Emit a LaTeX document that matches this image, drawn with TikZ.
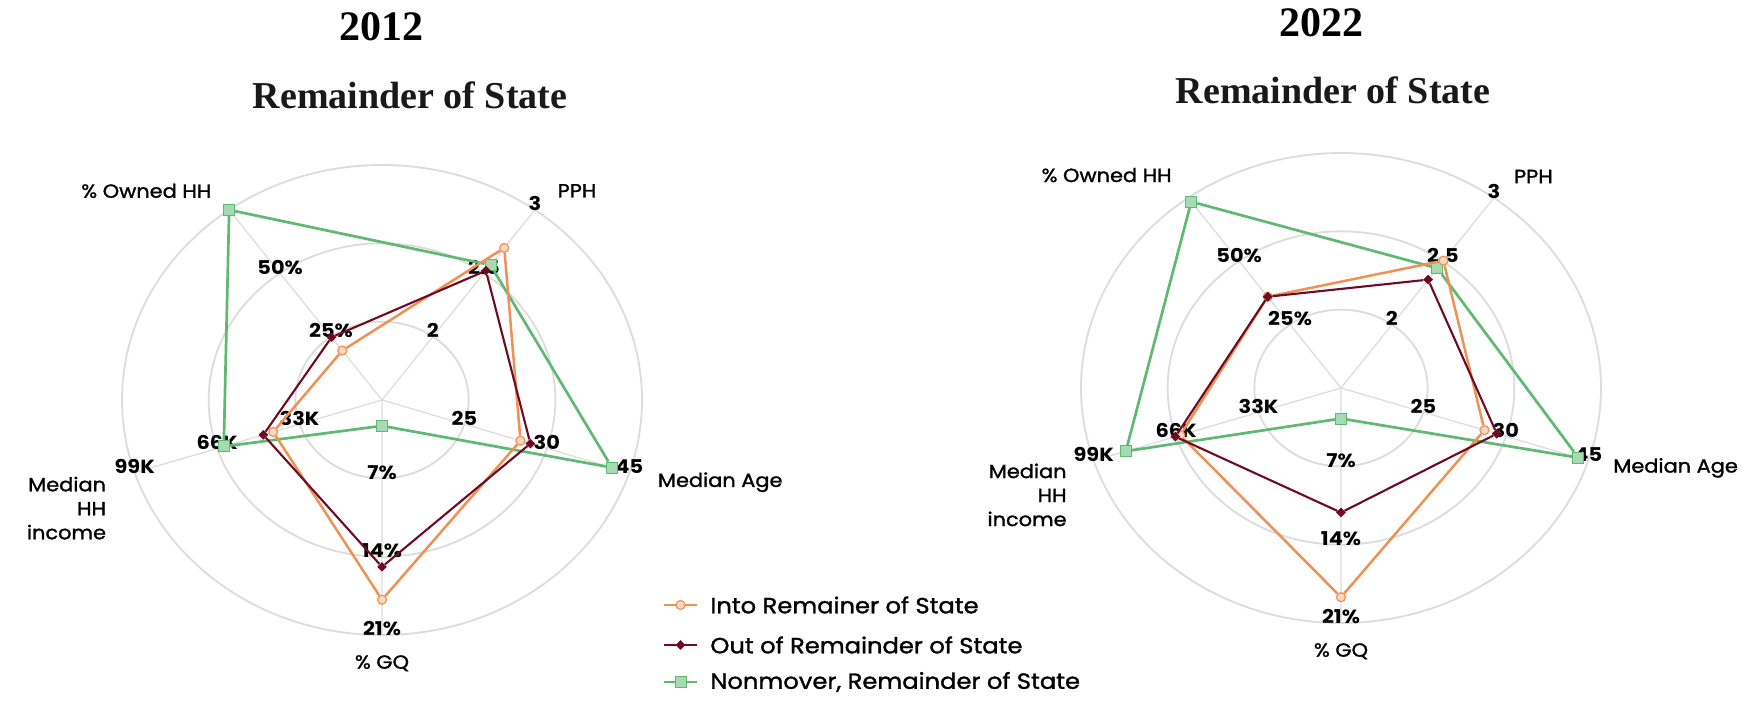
\documentclass[tikz,border=0pt]{standalone}
\usepackage{fontspec}
\setmainfont{Liberation Serif}
\newfontfamily\chartfont[FakeStretch=1.1]{Poppins}
\newfontfamily\namefont[FakeStretch=1.1,FakeBold=1.4]{Poppins}
\usetikzlibrary{shapes.geometric,positioning}

\definecolor{intoorange}{RGB}{238,145,85}
\definecolor{outred}{RGB}{110,10,35}
\definecolor{staygreen}{RGB}{95,185,115}
\definecolor{gridgray}{RGB}{220,220,220}

\begin{document}
\begin{tikzpicture}[x=0.5pt,y=-0.5pt,
  ring/.style={draw=gridgray,line width=0.9pt},
  spoke/.style={draw=gridgray,line width=0.6pt},
  into node/.style={circle,draw=intoorange,fill=intoorange!35,line width=0.6pt,inner sep=0pt,minimum size=4.5pt},
  out node/.style={diamond,fill=outred,inner sep=0pt,minimum size=5pt},
  stay node/.style={rectangle,draw=staygreen,fill=staygreen!55,line width=0.5pt,inner sep=0pt,minimum size=5.5pt},
  into line/.style={draw=intoorange,line width=1.25pt},
  out line/.style={draw=outred,line width=1.05pt},
  stay line/.style={draw=staygreen,line width=1.35pt},
  tick label/.style={font=\chartfont\bfseries\fontsize{9.5}{10}\selectfont,inner sep=0.5pt,yshift=3pt},
  axis name/.style={font=\namefont\fontsize{9.5}{12}\selectfont,inner sep=0pt},
  year/.style={font=\bfseries\fontsize{21}{22}\selectfont},
  chart title/.style={font=\bfseries\fontsize{19}{20}\selectfont,text=black!90},
  key/.style={font=\namefont\fontsize{11}{12}\selectfont,anchor=west,inner sep=0pt}]

  \fill[white] (0,0) rectangle (1748,701);
  \useasboundingbox (0,0) rectangle (1748,701);

  % 2012
  \node[year] (ayear) at (381,27) {2012};
  \node[chart title] (atitle) at (410,95) {Remainder of State};

  \begin{scope}[shift={(382,400)},x=130pt,y=117.5pt]
    \draw[ring] (0,0) circle (0.3333) (0,0) circle (0.6667) (0,0) circle (1);
    \draw[spoke] (0,0) -- (54:1) (0,0) -- (-18:1) (0,0) -- (-90:1) (0,0) -- (198:1) (0,0) -- (126:1);

    \node[tick label] (aown1) at (126:0.3333) {25\%};
    \node[tick label] (aown2) at (126:0.6667) {50\%};
    \node[tick label] (apph1) at (54:0.3333) {2};
    \node[tick label] (apph2) at (54:0.6667) {2.5};
    \node[tick label] (apph3) at (54:1) {3};
    \node[tick label] (aage1) at (-18:0.3333) {25};
    \node[tick label] (aage2) at (-18:0.6667) {30};
    \node[tick label] (aage3) at (-18:1) {45};
    \node[tick label] (agq1) at (-90:0.3333) {7\%};
    \node[tick label] (agq2) at (-90:0.6667) {14\%};
    \node[tick label] (agq3) at (-90:1) {21\%};
    \node[tick label] (ainc1) at (198:0.3333) {33K};
    \node[tick label] (ainc2) at (198:0.6667) {66K};
    \node[tick label] (ainc3) at (198:1) {99K};

    \node[axis name,anchor=east] (aown) at (-0.655,0.89) {\% Owned HH};
    \node[axis name] (apph) at (0.75,0.89) {PPH};
    \node[axis name,anchor=west] (aage) at (1.06,-0.35) {Median Age};
    \node[axis name] (agq) at (0,-1.12) {\% GQ};
    \node[axis name,anchor=east,align=right] (ainc) at (-1.06,-0.46) {Median\\HH\\income};

    \node[stay node] (as1) at (126:1) {};
    \node[stay node] (as2) at (54:0.71) {};
    \node[stay node] (as3) at (-18:0.93) {};
    \node[stay node] (as4) at (-90:0.11) {};
    \node[stay node] (as5) at (198:0.64) {};
    \draw[stay line] (as1) -- (as2) -- (as3) -- (as4) -- (as5) -- (as1);

    \node[into node] (ai1) at (126:0.26) {};
    \node[into node] (ai2) at (54:0.80) {};
    \node[into node] (ai3) at (-18:0.56) {};
    \node[into node] (ai4) at (-90:0.85) {};
    \node[into node] (ai5) at (198:0.44) {};
    \draw[into line] (ai1) -- (ai2) -- (ai3) -- (ai4) -- (ai5) -- (ai1);

    \node[out node] (ao1) at (126:0.33) {};
    \node[out node] (ao2) at (54:0.68) {};
    \node[out node] (ao3) at (-18:0.60) {};
    \node[out node] (ao4) at (-90:0.71) {};
    \node[out node] (ao5) at (198:0.48) {};
    \draw[out line] (ao1) -- (ao2) -- (ao3) -- (ao4) -- (ao5) -- (ao1);
  \end{scope}

  % 2022
  \node[year] (byear) at (1321,23) {2022};
  \node[chart title] (btitle) at (1333,90) {Remainder of State};

  \begin{scope}[shift={(1341,388)},x=130pt,y=117.5pt]
    \draw[ring] (0,0) circle (0.3333) (0,0) circle (0.6667) (0,0) circle (1);
    \draw[spoke] (0,0) -- (54:1) (0,0) -- (-18:1) (0,0) -- (-90:1) (0,0) -- (198:1) (0,0) -- (126:1);

    \node[tick label] (bown1) at (126:0.3333) {25\%};
    \node[tick label] (bown2) at (126:0.6667) {50\%};
    \node[tick label] (bpph1) at (54:0.3333) {2};
    \node[tick label] (bpph2) at (54:0.6667) {2.5};
    \node[tick label] (bpph3) at (54:1) {3};
    \node[tick label] (bage1) at (-18:0.3333) {25};
    \node[tick label] (bage2) at (-18:0.6667) {30};
    \node[tick label] (bage3) at (-18:1) {45};
    \node[tick label] (bgq1) at (-90:0.3333) {7\%};
    \node[tick label] (bgq2) at (-90:0.6667) {14\%};
    \node[tick label] (bgq3) at (-90:1) {21\%};
    \node[tick label] (binc1) at (198:0.3333) {33K};
    \node[tick label] (binc2) at (198:0.6667) {66K};
    \node[tick label] (binc3) at (198:1) {99K};

    \node[axis name,anchor=east] (bown) at (-0.65,0.906) {\% Owned HH};
    \node[axis name] (bpph) at (0.74,0.9) {PPH};
    \node[axis name,anchor=west] (bage) at (1.046,-0.34) {Median Age};
    \node[axis name] (bgq) at (0,-1.12) {\% GQ};
    \node[axis name,anchor=east,align=right] (binc) at (-1.054,-0.455) {Median\\HH\\income};

    \node[stay node] (bs1) at (126:0.98) {};
    \node[stay node] (bs2) at (54:0.63) {};
    \node[stay node] (bs3) at (-18:0.96) {};
    \node[stay node] (bs4) at (-90:0.13) {};
    \node[stay node] (bs5) at (198:0.87) {};
    \draw[stay line] (bs1) -- (bs2) -- (bs3) -- (bs4) -- (bs5) -- (bs1);

    \node[into node] (bi1) at (126:0.48) {};
    \node[into node] (bi2) at (54:0.67) {};
    \node[into node] (bi3) at (-18:0.58) {};
    \node[into node] (bi4) at (-90:0.89) {};
    \node[into node] (bi5) at (198:0.65) {};
    \draw[into line] (bi1) -- (bi2) -- (bi3) -- (bi4) -- (bi5) -- (bi1);

    \node[out node] (bo1) at (126:0.48) {};
    \node[out node] (bo2) at (54:0.57) {};
    \node[out node] (bo3) at (-18:0.63) {};
    \node[out node] (bo4) at (-90:0.53) {};
    \node[out node] (bo5) at (198:0.67) {};
    \draw[out line] (bo1) -- (bo2) -- (bo3) -- (bo4) -- (bo5) -- (bo1);
  \end{scope}

  % legend
  \coordinate (k1a) at (664,605); \coordinate (k1b) at (697,605);
  \coordinate (k2a) at (664,645); \coordinate (k2b) at (697,645);
  \coordinate (k3a) at (664,682); \coordinate (k3b) at (697,682);
  \draw[into line] (k1a) -- (k1b);
  \draw[out line] (k2a) -- (k2b);
  \draw[stay line] (k3a) -- (k3b);
  \node[into node] (k1) at (680.5,605) {};
  \node[out node] (k2) at (680.5,645) {};
  \node[stay node] (k3) at (680.5,682) {};
  \node[key] (k1t) at (710,605) {Into Remainer of State};
  \node[key] (k2t) at (710,645) {Out of Remainder of State};
  \node[key] (k3t) at (710,682) {Nonmover, Remainder of State};
\end{tikzpicture}
\end{document}
